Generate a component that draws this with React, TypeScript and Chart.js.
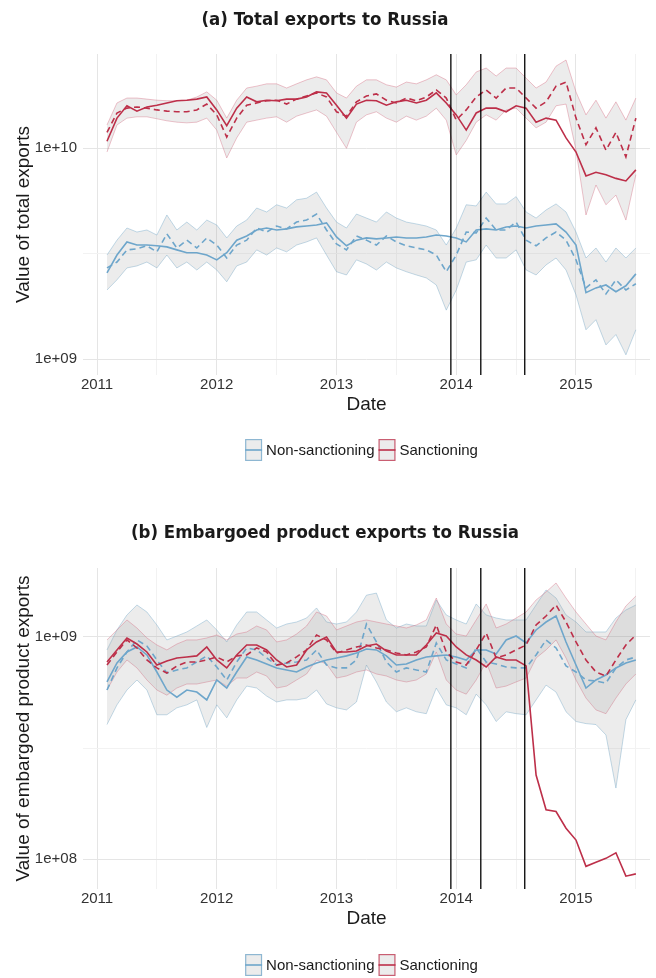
import React, { useEffect, useRef } from "react";
import { Chart, registerables } from "chart.js";

Chart.register(...registerables);

const FONT = '"Liberation Sans", Arial, Helvetica, sans-serif';
const TITLE_FONT = '"DejaVu Sans Condensed", "Liberation Sans", sans-serif';

// ---------- x axis (monthly observations, Feb 2011 .. Jul 2015) ----------
const FIRST_YEAR = 2011;
const FIRST_MONTH = 2;
const N_MONTHS = 54;
const MONTH_X = Array.from({ length: N_MONTHS }, (_, i) => FIRST_YEAR + (FIRST_MONTH - 1 + i) / 12);
const X_MIN = 2010.883;
const X_MAX = 2015.618;
const X_TICKS = [2011, 2012, 2013, 2014, 2015];
const X_MINOR = [2011.5, 2012.5, 2013.5, 2014.5, 2015.5];
const EVENT_DATES = [2013.955, 2014.205, 2014.572];

const SERIES = ["Non-sanctioning", "Sanctioning"];

// ---------- panel (a): total exports, billions USD ----------
const A_SANC_ACTUAL = [10.8, 13.9, 15.9, 15.0, 15.7, 16.0, 16.4, 16.8, 16.9, 17.1, 17.5, 15.2, 12.8, 15.5, 17.5, 16.6, 16.9, 16.8, 17.1, 17.1, 17.5, 18.5, 18.3, 16.0, 13.9, 16.2, 16.9, 16.8, 16.0, 16.6, 16.9, 16.4, 16.9, 18.3, 16.4, 14.4, 12.2, 14.7, 15.5, 15.5, 14.9, 15.9, 15.5, 13.3, 13.9, 13.6, 11.2, 9.6, 7.4, 7.7, 7.5, 7.2, 7.0, 7.9];
const A_SANC_SYNTH = [11.9, 14.7, 15.5, 15.7, 15.5, 15.2, 15.0, 14.9, 14.9, 15.2, 16.2, 14.4, 11.3, 13.9, 16.0, 16.4, 16.8, 16.9, 16.2, 17.1, 17.7, 18.3, 17.5, 14.9, 14.2, 16.6, 17.7, 18.1, 16.9, 16.4, 17.3, 16.8, 17.5, 18.9, 17.3, 13.6, 15.2, 17.5, 18.9, 17.3, 19.3, 19.3, 17.3, 15.5, 16.6, 19.7, 20.6, 13.9, 10.4, 12.5, 9.8, 11.9, 9.1, 13.9];
const A_SANC_HI = [12.9, 16.4, 17.3, 17.3, 17.1, 16.9, 16.8, 16.8, 16.9, 17.5, 18.5, 16.9, 13.9, 16.9, 19.3, 19.7, 20.2, 20.2, 19.3, 20.2, 21.1, 21.8, 21.1, 18.3, 17.3, 19.7, 21.1, 21.1, 20.0, 19.5, 20.6, 20.2, 21.1, 22.3, 21.1, 17.9, 20.0, 23.0, 24.0, 22.0, 24.0, 24.0, 21.5, 19.3, 20.6, 24.5, 26.2, 18.5, 14.4, 16.9, 13.9, 16.6, 13.6, 17.3];
const A_SANC_LO = [9.6, 12.9, 13.9, 14.1, 14.1, 13.8, 13.5, 13.3, 13.2, 13.3, 13.9, 12.2, 9.0, 11.2, 13.3, 13.6, 13.9, 14.1, 13.3, 14.2, 14.7, 15.2, 14.2, 11.9, 10.0, 13.3, 14.4, 14.9, 13.9, 13.3, 14.2, 13.6, 14.2, 15.5, 13.6, 9.3, 10.9, 13.3, 14.4, 13.6, 15.2, 15.5, 13.9, 12.5, 13.3, 15.9, 16.2, 9.8, 4.83, 6.7, 5.4, 6.0, 4.57, 7.5];
const A_NON_ACTUAL = [2.57, 3.12, 3.60, 3.48, 3.48, 3.45, 3.41, 3.30, 3.20, 3.20, 3.12, 2.96, 3.20, 3.67, 3.84, 4.10, 4.19, 4.10, 4.15, 4.24, 4.28, 4.33, 4.43, 3.80, 3.45, 3.67, 3.76, 3.72, 3.76, 3.80, 3.76, 3.76, 3.80, 3.88, 3.84, 3.76, 3.60, 4.10, 4.15, 4.10, 4.24, 4.28, 4.19, 4.28, 4.33, 4.38, 4.01, 3.48, 2.07, 2.18, 2.25, 2.09, 2.23, 2.54];
const A_NON_SYNTH = [2.71, 2.89, 3.30, 3.34, 3.45, 3.23, 3.93, 3.37, 3.67, 3.37, 3.76, 3.48, 3.02, 3.48, 3.67, 4.19, 4.01, 4.28, 4.15, 4.47, 4.57, 4.88, 4.10, 3.52, 3.30, 3.84, 3.67, 3.48, 3.84, 3.60, 3.45, 3.37, 3.30, 3.12, 2.60, 3.12, 4.01, 3.97, 4.67, 4.10, 4.10, 4.47, 3.67, 3.45, 3.76, 4.01, 3.67, 2.96, 2.18, 2.38, 2.04, 2.38, 2.13, 2.28];
const A_NON_HI = [3.12, 3.67, 4.19, 4.01, 4.10, 3.88, 4.83, 4.10, 4.47, 4.10, 4.57, 4.33, 3.76, 4.28, 4.57, 5.21, 4.99, 5.4, 5.21, 5.7, 5.8, 6.2, 5.21, 4.47, 4.19, 4.88, 4.67, 4.47, 4.99, 4.67, 4.47, 4.38, 4.28, 4.10, 3.48, 4.19, 5.4, 5.33, 6.2, 5.45, 5.45, 5.9, 4.99, 4.67, 5.1, 5.45, 4.99, 4.01, 3.02, 3.37, 2.89, 3.37, 3.02, 3.37];
const A_NON_LO = [2.13, 2.38, 2.71, 2.77, 2.89, 2.71, 3.12, 2.71, 2.89, 2.65, 2.89, 2.65, 2.33, 2.77, 2.89, 3.30, 3.12, 3.37, 3.23, 3.48, 3.60, 3.76, 3.12, 2.60, 2.51, 2.96, 2.83, 2.65, 2.89, 2.71, 2.60, 2.51, 2.43, 2.25, 1.71, 2.13, 2.89, 2.96, 3.48, 3.02, 3.02, 3.30, 2.65, 2.51, 2.80, 3.02, 2.65, 2.02, 1.38, 1.54, 1.17, 1.31, 1.05, 1.38];
const A_Y_TICKS = [1e9, 1e10];
const A_Y_LABELS = ["1e+09", "1e+10"];

// ---------- panel (b): embargoed product exports, millions USD ----------
const B_SANC_ACTUAL = [770, 872, 987, 927, 854, 746, 778, 802, 811, 820, 899, 786, 724, 828, 918, 918, 872, 786, 731, 746, 872, 947, 997, 854, 854, 863, 908, 927, 863, 828, 828, 828, 918, 1039, 1007, 899, 828, 786, 731, 811, 786, 786, 739, 239, 167, 164, 138, 122, 93, 97, 101, 107, 84, 86];
const B_SANC_SYNTH = [746, 854, 967, 890, 786, 724, 687, 739, 770, 770, 786, 811, 770, 820, 828, 890, 854, 746, 762, 811, 872, 1018, 967, 845, 872, 899, 918, 890, 872, 845, 828, 854, 899, 1129, 854, 770, 746, 872, 1039, 802, 828, 872, 918, 1129, 1239, 1388, 1164, 947, 786, 694, 666, 786, 918, 1018];
const B_SANC_HI = [967, 1072, 1189, 1094, 987, 918, 872, 927, 967, 967, 987, 1018, 967, 1028, 1050, 1117, 1072, 947, 967, 1028, 1117, 1291, 1239, 1072, 1117, 1164, 1189, 1164, 1140, 1117, 1094, 1129, 1189, 1492, 1140, 1028, 1007, 1189, 1403, 1094, 1140, 1213, 1291, 1462, 1588, 1743, 1492, 1291, 1140, 1007, 967, 1164, 1374, 1523];
const B_SANC_LO = [576, 694, 786, 724, 639, 576, 546, 588, 613, 613, 626, 639, 600, 652, 652, 694, 666, 588, 600, 639, 680, 786, 754, 652, 666, 694, 709, 680, 666, 639, 626, 639, 680, 854, 639, 576, 552, 639, 770, 588, 600, 626, 652, 802, 872, 967, 802, 639, 530, 469, 451, 530, 613, 680];
const B_NON_ACTUAL = [626, 762, 854, 899, 828, 694, 576, 535, 576, 564, 520, 639, 588, 694, 811, 786, 754, 724, 709, 694, 731, 762, 786, 802, 820, 845, 881, 872, 820, 746, 754, 786, 811, 820, 828, 811, 786, 872, 872, 836, 967, 1007, 937, 1072, 1164, 1239, 947, 746, 588, 639, 673, 724, 762, 786];
const B_NON_SYNTH = [576, 724, 854, 967, 908, 786, 687, 709, 724, 770, 820, 731, 639, 770, 890, 872, 802, 746, 762, 770, 786, 872, 746, 724, 724, 786, 1140, 947, 770, 694, 724, 709, 694, 937, 786, 754, 724, 890, 770, 754, 731, 724, 724, 828, 967, 890, 739, 694, 639, 632, 619, 724, 786, 811];
const B_NON_HI = [872, 1072, 1252, 1388, 1291, 1129, 967, 1007, 1050, 1117, 1189, 1072, 947, 1129, 1291, 1291, 1189, 1094, 1140, 1164, 1213, 1346, 1164, 1140, 1164, 1291, 1536, 1570, 1189, 1094, 1140, 1117, 1117, 1462, 1252, 1189, 1140, 1403, 1252, 1213, 1189, 1189, 1189, 1388, 1621, 1492, 1252, 1164, 1050, 1050, 1050, 1213, 1318, 1388];
const B_NON_LO = [403, 494, 576, 639, 576, 446, 446, 479, 494, 520, 391, 494, 432, 520, 600, 588, 541, 509, 520, 520, 530, 576, 499, 479, 469, 509, 746, 626, 509, 460, 479, 460, 451, 588, 494, 479, 446, 552, 494, 416, 460, 451, 446, 520, 606, 564, 460, 416, 407, 403, 362, 209, 424, 520];
const B_Y_TICKS = [1e8, 1e9];
const B_Y_LABELS = ["1e+08", "1e+09"];

// ---------- styling ----------
const RED = "#bd2f49";
const BLUE = "#6ea6cb";
const RED_EDGE = "rgba(214, 96, 120, 0.38)";
const BLUE_EDGE = "rgba(111, 166, 201, 0.42)";
const BAND_FILL = "rgba(150, 150, 150, 0.18)";
const GRID_MAJOR = "#e5e5e5";
const GRID_MINOR = "#f2f2f2";

type PanelDef = {
  title: string;
  yTitle: string;
  unit: number;
  yMin: number;
  yMax: number;
  yTicks: number[];
  yLabels: string[];
  sancActual: number[];
  sancSynth: number[];
  sancLo: number[];
  sancHi: number[];
  nonActual: number[];
  nonSynth: number[];
  nonLo: number[];
  nonHi: number[];
  titlePad: { top: number; bottom: number };
  bottomPad: number;
  legendY: number;
};

const PANELS: PanelDef[] = [
  {
    title: "(a) Total exports to Russia",
    yTitle: "Value of total exports",
    unit: 1e9,
    yMin: 8.425e8,
    yMax: 2.798e10,
    yTicks: A_Y_TICKS,
    yLabels: A_Y_LABELS,
    sancActual: A_SANC_ACTUAL,
    sancSynth: A_SANC_SYNTH,
    sancLo: A_SANC_LO,
    sancHi: A_SANC_HI,
    nonActual: A_NON_ACTUAL,
    nonSynth: A_NON_SYNTH,
    nonLo: A_NON_LO,
    nonHi: A_NON_HI,
    titlePad: { top: 8.9, bottom: 22.9 },
    bottomPad: 64,
    legendY: 450,
  },
  {
    title: "(b) Embargoed product exports to Russia",
    yTitle: "Value of embargoed product exports",
    unit: 1e6,
    yMin: 7.356e7,
    yMax: 2.035e9,
    yTicks: B_Y_TICKS,
    yLabels: B_Y_LABELS,
    sancActual: B_SANC_ACTUAL,
    sancSynth: B_SANC_SYNTH,
    sancLo: B_SANC_LO,
    sancHi: B_SANC_HI,
    nonActual: B_NON_ACTUAL,
    nonSynth: B_NON_SYNTH,
    nonLo: B_NON_LO,
    nonHi: B_NON_HI,
    titlePad: { top: 32.9, bottom: 23.9 },
    bottomPad: 39,
    legendY: 476,
  },
];

const toPoints = (arr: number[], unit: number) => arr.map((v, i) => ({ x: MONTH_X[i], y: v * unit }));

function eventLinesPlugin(dates: number[]) {
  return {
    id: "eventLines",
    afterDatasetsDraw(chart: any) {
      const { ctx, chartArea, scales } = chart;
      ctx.save();
      ctx.strokeStyle = "#000";
      ctx.lineWidth = 1.3;
      dates.forEach((d) => {
        const x = scales.x.getPixelForValue(d);
        ctx.beginPath();
        ctx.moveTo(x, chartArea.top);
        ctx.lineTo(x, chartArea.bottom);
        ctx.stroke();
      });
      ctx.restore();
    },
  };
}

function ggLegendPlugin(y: number) {
  const items = [
    { label: SERIES[0], color: BLUE, edge: "rgba(111, 166, 201, 0.75)" },
    { label: SERIES[1], color: RED, edge: "rgba(189, 47, 73, 0.75)" },
  ];
  return {
    id: "ggLegend",
    afterDraw(chart: any) {
      const { ctx, chartArea } = chart;
      ctx.save();
      ctx.font = `15px ${FONT}`;
      ctx.textBaseline = "middle";
      ctx.textAlign = "left";
      const keyW = 17;
      const keyH = 22;
      const gapKT = 4;
      const gapItems = 4;
      const widths = items.map((it) => keyW + gapKT + ctx.measureText(it.label).width);
      const total = widths.reduce((a, b) => a + b, 0) + gapItems * (items.length - 1);
      let x = (chartArea.left + chartArea.right) / 2 - 5 - total / 2;
      items.forEach((it, k) => {
        ctx.fillStyle = "#ececec";
        ctx.fillRect(x, y - keyH / 2, keyW, keyH);
        ctx.strokeStyle = it.edge;
        ctx.lineWidth = 1.2;
        ctx.strokeRect(x + 0.6, y - keyH / 2 + 0.6, keyW - 1.2, keyH - 1.2);
        ctx.strokeStyle = it.color;
        ctx.lineWidth = 1.6;
        ctx.beginPath();
        ctx.moveTo(x, y);
        ctx.lineTo(x + keyW, y);
        ctx.stroke();
        ctx.fillStyle = "#1a1a1a";
        ctx.fillText(it.label, x + keyW + gapKT, y + 1);
        x += widths[k] + gapItems;
      });
      ctx.restore();
    },
  };
}

function buildConfig(p: PanelDef): any {
  const u = p.unit;
  const yGrid = [p.yTicks[0], Math.sqrt(p.yTicks[0] * p.yTicks[1]), p.yTicks[1]];
  const ribbon = (data: number[], edge: string, fill: any, order: number) => ({
    data: toPoints(data, u),
    borderColor: edge,
    borderWidth: 1,
    backgroundColor: BAND_FILL,
    fill,
    pointRadius: 0,
    tension: 0,
    order,
  });
  const line = (label: string, data: number[], color: string, dashed: boolean, order: number) => ({
    label,
    data: toPoints(data, u),
    borderColor: color,
    borderWidth: 1.6,
    borderDash: dashed ? [6, 4] : [],
    fill: false,
    pointRadius: 0,
    tension: 0,
    order,
  });
  return {
    type: "line",
    data: {
      datasets: [
        ribbon(p.nonHi, BLUE_EDGE, "+1", 11),
        ribbon(p.nonLo, BLUE_EDGE, false, 11),
        ribbon(p.sancHi, RED_EDGE, "+1", 10),
        ribbon(p.sancLo, RED_EDGE, false, 10),
        line(SERIES[0] + " (synthetic)", p.nonSynth, BLUE, true, 4),
        line(SERIES[0], p.nonActual, BLUE, false, 3),
        line(SERIES[1] + " (synthetic)", p.sancSynth, RED, true, 2),
        line(SERIES[1], p.sancActual, RED, false, 1),
      ],
    },
    options: {
      responsive: false,
      animation: false,
      devicePixelRatio: 1,
      layout: { padding: { left: 0, right: 6, top: 0, bottom: p.bottomPad } },
      plugins: {
        legend: { display: false },
        tooltip: { enabled: false },
        title: {
          display: true,
          text: p.title,
          color: "#1a1a1a",
          font: { family: TITLE_FONT, size: 18.5, weight: "bold", lineHeight: 1.2 },
          padding: p.titlePad,
        },
      },
      scales: {
        x: {
          type: "linear",
          min: X_MIN,
          max: X_MAX,
          afterBuildTicks: (s: any) => {
            s.ticks = [...X_TICKS, ...X_MINOR].sort((a, b) => a - b).map((v) => ({ value: v }));
          },
          afterFit: (s: any) => {
            s.height = 50;
          },
          ticks: {
            autoSkip: false,
            maxRotation: 0,
            padding: 1,
            color: "#333333",
            font: { family: FONT, size: 15 },
            callback: (v: number) => (X_TICKS.includes(v) ? String(v) : ""),
          },
          grid: {
            drawTicks: false,
            color: (c: any) => (c.tick && X_TICKS.includes(c.tick.value) ? GRID_MAJOR : GRID_MINOR),
            lineWidth: 1,
          },
          border: { display: false },
          title: {
            display: true,
            text: "Date",
            color: "#1a1a1a",
            font: { family: FONT, size: 19, lineHeight: 1.2 },
            padding: { top: 0, bottom: 8.6 },
          },
        },
        y: {
          type: "logarithmic",
          min: p.yMin,
          max: p.yMax,
          afterBuildTicks: (s: any) => {
            s.ticks = yGrid.map((v) => ({ value: v }));
          },
          afterFit: (s: any) => {
            s.width = 83;
          },
          ticks: {
            padding: 6,
            color: "#333333",
            font: { family: FONT, size: 15 },
            callback: (v: number) => {
              const k = p.yTicks.findIndex((t) => Math.abs(t - v) / t < 1e-6);
              return k >= 0 ? p.yLabels[k] : "";
            },
          },
          grid: {
            drawTicks: false,
            color: (c: any) =>
              c.tick && p.yTicks.some((t) => Math.abs(t - c.tick.value) / t < 1e-6) ? GRID_MAJOR : GRID_MINOR,
            lineWidth: 1,
          },
          border: { display: false },
          title: {
            display: true,
            text: p.yTitle,
            color: "#1a1a1a",
            font: { family: FONT, size: 19, lineHeight: 1.2 },
            padding: { top: 12.6, bottom: 0 },
          },
        },
      },
    },
    plugins: [eventLinesPlugin(EVENT_DATES), ggLegendPlugin(p.legendY)],
  };
}

function Panel({ def }: { def: PanelDef }) {
  const ref = useRef<HTMLCanvasElement | null>(null);
  useEffect(() => {
    if (!ref.current) return;
    const chart = new Chart(ref.current, buildConfig(def));
    return () => chart.destroy();
  }, [def]);
  return (
    <div style={{ width: 656, height: 489, position: "relative" }}>
      <canvas ref={ref} width={656} height={489} style={{ display: "block", width: 656, height: 489 }} />
    </div>
  );
}

export default function App() {
  return (
    <div style={{ position: "absolute", left: 0, top: 0, width: 656, height: 978, background: "#ffffff" }}>
      {PANELS.map((p, i) => (
        <Panel key={i} def={p} />
      ))}
    </div>
  );
}
